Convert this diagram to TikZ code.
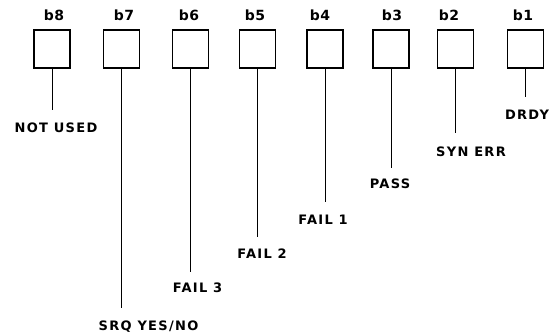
\documentclass[tikz,border=0pt]{standalone}
\usepackage{fontspec}
\setmainfont{DejaVu Sans}[BoldFont={DejaVu Sans Bold}]
\newfontfamily\lettering{DejaVu Sans Bold}[LetterSpace=10]
\newfontfamily\bitfont{DejaVu Sans Bold}[LetterSpace=4]
\begin{document}
\begin{tikzpicture}[x=1pt,y=-1pt,
  bitbox/.style={draw,line width=1.1pt,minimum width=36pt,minimum height=38pt,inner sep=0pt},
  bitlabel/.style={font=\bitfont\fontsize{14}{15}\selectfont,inner sep=0pt},
  lead/.style={line width=0.9pt},
  sig/.style={font=\lettering\fontsize{13}{14}\selectfont,inner sep=0pt}]
\useasboundingbox (0,0) rectangle (559,333);
% boxes
\node[bitbox] (B8) at (52,49) {};
\node[bitbox] (B7) at (121.5,49) {};
\node[bitbox] (B6) at (190.5,49) {};
\node[bitbox] (B5) at (257.5,49) {};
\node[bitbox] (B4) at (325,49) {};
\node[bitbox] (B3) at (391,49) {};
\node[bitbox] (B2) at (455.5,49) {};
\node[bitbox] (B1) at (525.5,49) {};
% bit labels
\node[bitlabel] (L8) at (54,15) {b8};
\node[bitlabel] (L7) at (124,15) {b7};
\node[bitlabel] (L6) at (189,15) {b6};
\node[bitlabel] (L5) at (255,15) {b5};
\node[bitlabel] (L4) at (320,15) {b4};
\node[bitlabel] (L3) at (392,15) {b3};
\node[bitlabel] (L2) at (449,15) {b2};
\node[bitlabel] (L1) at (523,15) {b1};
% lead ends
\coordinate (E8) at (52,110);
\coordinate (E7) at (121.5,308);
\coordinate (E6) at (190.5,272);
\coordinate (E5) at (257.5,237);
\coordinate (E4) at (325,202);
\coordinate (E3) at (391,168);
\coordinate (E2) at (455.5,133);
\coordinate (E1) at (525.5,97);
\draw[lead] (B8.south) -- (E8);
\draw[lead] (B7.south) -- (E7);
\draw[lead] (B6.south) -- (E6);
\draw[lead] (B5.south) -- (E5);
\draw[lead] (B4.south) -- (E4);
\draw[lead] (B3.south) -- (E3);
\draw[lead] (B2.south) -- (E2);
\draw[lead] (B1.south) -- (E1);
% signal names
\node[sig] (S8) at (56,128) {NOT USED};
\node[sig] (S7) at (148.5,327) {SRQ YES/NO};
\node[sig] (S6) at (197.5,288) {FAIL 3};
\node[sig] (S5) at (262,254) {FAIL 2};
\node[sig] (S4) at (323,220) {FAIL 1};
\node[sig] (S3) at (390,184) {PASS};
\node[sig] (S2) at (471,152) {SYN ERR};
\node[sig] (S1) at (527,115) {DRDY};
\end{tikzpicture}
\end{document}
